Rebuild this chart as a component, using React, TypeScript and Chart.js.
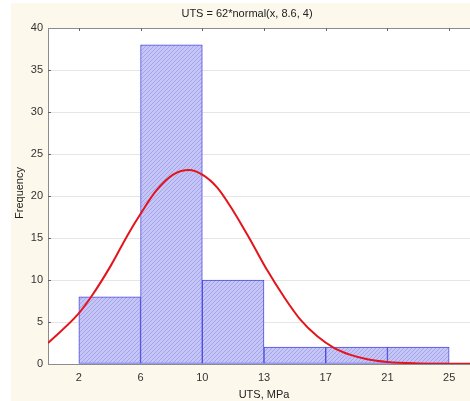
import { useEffect, useRef } from "react";
import { Chart, registerables } from "chart.js";

Chart.register(...registerables);

// Histogram of ultimate tensile strength, bins between these edge labels
const binEdgeLabels = ["2", "6", "10", "13", "17", "21", "25"];
const binCounts = [8, 38, 10, 2, 2, 2];

// Fitted normal curve, x in bin-edge units (0 = first edge)
const fitX = [-0.5, -0.016, 0.2, 0.525, 0.794, 1.011, 1.25, 1.54, 1.783, 2.0, 2.243, 2.512, 2.783, 3.053, 3.323, 3.593, 3.864, 4.133, 4.404, 4.674, 4.998, 5.485, 6.0, 6.5];
const fitY = [2.5, 5.9, 8.0, 11.8, 15.4, 18.0, 20.6, 22.6, 23.1, 22.55, 21.0, 18.1, 14.7, 11.15, 8.0, 5.25, 3.3, 1.93, 1.08, 0.56, 0.24, 0.07, 0.03, 0.02];

const chartTitle = "UTS = 62*normal(x, 8.6, 4)";
const xTitle = "UTS, MPa";
const yTitle = "Frequency";

const FONT = "'Liberation Sans', Arial, sans-serif";

function makeHatch(): CanvasPattern | string {
  const c = document.createElement("canvas");
  c.width = 4;
  c.height = 4;
  const g = c.getContext("2d");
  if (!g) return "#b6b6f1";
  g.fillStyle = "#c6c6f6";
  g.fillRect(0, 0, 4, 4);
  g.strokeStyle = "#a4a4ec";
  g.lineWidth = 1;
  g.beginPath();
  g.moveTo(0, 4);
  g.lineTo(4, 0);
  g.moveTo(-1, 1);
  g.lineTo(1, -1);
  g.moveTo(3, 5);
  g.lineTo(5, 3);
  g.stroke();
  return g.createPattern(c, "repeat") || "#b6b6f1";
}

const framePlugin = {
  id: "frame",
  beforeDraw(chart: any) {
    const { ctx, chartArea: a, width, height } = chart;
    ctx.save();
    ctx.fillStyle = "#fcf8ec";
    ctx.fillRect(11, 3, width - 11, height - 3);
    ctx.fillStyle = "#ffffff";
    ctx.fillRect(a.left, a.top, a.right - a.left, a.bottom - a.top);
    ctx.fillStyle = "#222";
    ctx.font = `11px ${FONT}`;
    ctx.textAlign = "center";
    ctx.textBaseline = "middle";
    ctx.fillText(chartTitle, 247, 14);
    ctx.fillText(xTitle, 264, 395);
    ctx.translate(20, 193);
    ctx.rotate(-Math.PI / 2);
    ctx.fillText(yTitle, 0, 0);
    ctx.restore();
  },
  afterDraw(chart: any) {
    const { ctx, chartArea: a, scales } = chart;
    ctx.save();
    ctx.strokeStyle = "#8c8c8c";
    ctx.lineWidth = 1;
    ctx.beginPath();
    ctx.moveTo(a.left, a.top + 0.5);
    ctx.lineTo(a.right, a.top + 0.5);
    ctx.moveTo(a.right - 0.5, a.top);
    ctx.lineTo(a.right - 0.5, a.bottom);
    ctx.stroke();
    ctx.strokeStyle = "#666";
    ctx.beginPath();
    for (let i = 0; i < binEdgeLabels.length; i++) {
      const px = Math.round(scales.x.getPixelForValue(i)) + 0.5;
      ctx.moveTo(px, a.top);
      ctx.lineTo(px, a.top + 3);
    }
    for (let v = 5; v < 40; v += 5) {
      const py = Math.round(scales.y.getPixelForValue(v)) + 0.5;
      ctx.moveTo(a.left, py);
      ctx.lineTo(a.left + 3, py);
    }
    ctx.stroke();
    ctx.restore();
  },
};

export default function App() {
  const ref = useRef<HTMLCanvasElement | null>(null);

  useEffect(() => {
    const canvas = ref.current;
    if (!canvas) return;
    const hatch = makeHatch();
    const chart = new Chart(canvas, {
      data: {
        datasets: [
          {
            type: "line",
            data: fitX.map((x, i) => ({ x, y: fitY[i] })),
            borderColor: "#e3141b",
            borderWidth: 2,
            pointRadius: 0,
            cubicInterpolationMode: "monotone",
            order: 0,
          },
          {
            type: "bar",
            data: binCounts.map((c, i) => ({ x: i + 0.5, y: c })),
            backgroundColor: hatch as any,
            borderColor: "#4a4ae2",
            borderWidth: 1,
            borderSkipped: false,
            barPercentage: 1,
            categoryPercentage: 1,
            order: 1,
          },
        ],
      } as any,
      options: {
        animation: false,
        responsive: false,
        devicePixelRatio: 1,
        layout: { padding: { top: 28, left: 0, right: 0, bottom: 0 } },
        plugins: {
          legend: { display: false },
          title: { display: false },
          tooltip: { enabled: false },
        },
        scales: {
          x: {
            type: "linear",
            offset: false,
            min: -0.5,
            max: 6.5,
            afterBuildTicks: (s: any) => {
              s.ticks = binEdgeLabels.map((_, i) => ({ value: i }));
            },
            afterFit: (s: any) => {
              s.height = 37;
            },
            ticks: {
              callback: (v: any) => binEdgeLabels[Math.round(Number(v))] ?? "",
              font: { family: FONT, size: 11 },
              color: "#333",
              padding: 7,
              maxRotation: 0,
              autoSkip: false,
            },
            grid: { display: false, drawTicks: false, offset: false },
            border: { display: true, color: "#8c8c8c" },
          },
          y: {
            min: 0,
            max: 40,
            afterFit: (s: any) => {
              s.width = 48;
            },
            ticks: {
              stepSize: 5,
              font: { family: FONT, size: 11 },
              color: "#333",
              padding: 5,
            },
            grid: { color: "#e6e6e6", drawTicks: false },
            border: { display: true, color: "#8c8c8c" },
          },
        },
      } as any,
      plugins: [framePlugin],
    });
    return () => chart.destroy();
  }, []);

  return (
    <div
      style={{
        position: "fixed",
        left: 0,
        top: 0,
        width: 470,
        height: 401,
        overflow: "hidden",
        background: "#ffffff",
      }}
    >
      <canvas ref={ref} width={480} height={401} style={{ display: "block", width: 480, height: 401 }} />
    </div>
  );
}
